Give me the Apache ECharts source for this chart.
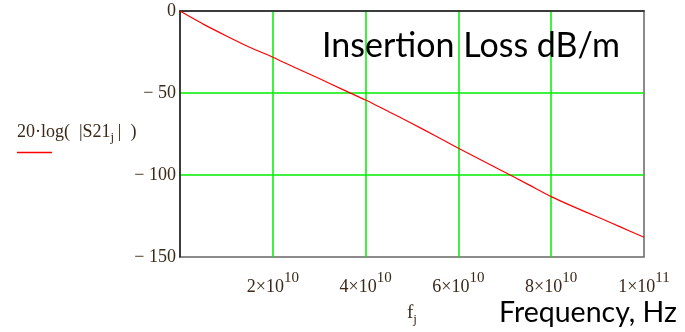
<!DOCTYPE html>
<html>
<head>
<meta charset="utf-8">
<script src="https://cdn.jsdelivr.net/npm/echarts@6/dist/echarts.min.js"></script>
<style>
  html, body { margin: 0; padding: 0; background: #fff; }
  #chart { width: 685px; height: 332px; }
</style>
</head>
<body>
<div id="chart"></div>
<script>
// frequency (Hz) and 20*log(|S21|)
const freqs = [0, 5e9, 10e9, 15e9, 20e9, 25e9, 30e9, 35e9, 40e9, 45e9, 50e9,
  55e9, 60e9, 65e9, 70e9, 75e9, 80e9, 85e9, 90e9, 95e9, 100e9];
const lossDb = [0, -8, -15.2, -22.1, -28.2, -34.8, -41.2, -47.8, -54.3, -61.4, -68.6,
  -76.1, -83.7, -91, -98.3, -105.7, -113.2, -119.6, -125.6, -131.8, -138];

const xTickMant = ["", "2", "4", "6", "8", "1"];
const xTickExp = ["", "10", "10", "10", "10", "11"];
const yTickLabels = { "0": "0", "-50": "\u2212 50", "-100": "\u2212 100", "-150": "\u2212 150" };

const serif = "'Liberation Serif', 'DejaVu Serif', serif";
const sans = "Lato, 'Open Sans', sans-serif";
const labelColor = "#3a2818";

const chart = echarts.init(document.getElementById("chart"), null, { renderer: "canvas" });

const option = {
  animation: false,
  backgroundColor: "#fff",
  grid: {
    left: 180,
    top: 11,
    width: 464,
    height: 246,
    show: true,
    borderColor: "#666",
    borderWidth: 1.5,
    backgroundColor: "transparent",
  },
  xAxis: {
    type: "value",
    min: 0,
    max: 1e11,
    interval: 2e10,
    axisLine: { show: true, lineStyle: { color: "#222", width: 1.5 } },
    axisTick: { show: false },
    splitLine: { show: true, showMinLine: false, showMaxLine: false, lineStyle: { color: "#00ee00", width: 1.5 } },
    axisLabel: {
      margin: 14,
      formatter: (v) => {
        const i = Math.round(v / 2e10);
        if (!xTickMant[i]) return "";
        return "{m|" + xTickMant[i] + "\u00d710}{e|" + xTickExp[i] + "}";
      },
      rich: {
        m: { fontFamily: serif, fontSize: 18, color: labelColor, verticalAlign: "bottom" },
        e: { fontFamily: serif, fontSize: 15, color: labelColor, verticalAlign: "bottom", padding: [0, 0, 10, 0] },
      },
    },
  },
  yAxis: {
    type: "value",
    min: -150,
    max: 0,
    interval: 50,
    axisLine: { show: true, lineStyle: { color: "#222", width: 1.5 } },
    axisTick: { show: false },
    splitLine: { show: true, showMinLine: false, showMaxLine: false, lineStyle: { color: "#00ee00", width: 1.5 } },
    axisLabel: {
      margin: 4,
      fontFamily: serif,
      fontSize: 18,
      color: labelColor,
      formatter: (v) => yTickLabels[String(v)] || "",
    },
  },
  graphic: [
    {
      type: "text",
      left: 322,
      top: 29,
      style: { text: "Insertion Loss dB/m", fontFamily: sans, fontSize: 34, fill: "#000" },
      z: 10,
    },
    {
      type: "text",
      left: 499,
      top: 298,
      style: { text: "Frequency, Hz", fontFamily: sans, fontSize: 28.5, fill: "#000" },
    },
    {
      type: "text",
      left: 17,
      top: 123,
      style: {
        text: "{a|20\u00b7log(  |S21}{s|j}{a|\u2009|  )}",
        rich: {
          a: { fontFamily: serif, fontSize: 18, fill: labelColor, verticalAlign: "top" },
          s: { fontFamily: serif, fontSize: 13, fill: labelColor, verticalAlign: "top", padding: [8, 0, 0, 0] },
        },
      },
    },
    {
      type: "line",
      shape: { x1: 17, y1: 152.5, x2: 52, y2: 152.5 },
      style: { stroke: "#ff0000", lineWidth: 1.5 },
    },
    {
      type: "text",
      left: 407,
      top: 304,
      style: {
        text: "{f|f}{s|j}",
        rich: {
          f: { fontFamily: serif, fontSize: 19, fill: labelColor, verticalAlign: "top" },
          s: { fontFamily: serif, fontSize: 13, fill: labelColor, verticalAlign: "top", padding: [9, 0, 0, 0] },
        },
      },
    },
  ],
  series: [
    {
      type: "line",
      data: freqs.map((f, i) => [f, lossDb[i]]),
      smooth: 0.2,
      showSymbol: false,
      lineStyle: { color: "#ff0000", width: 1.2 },
      z: 5,
    },
  ],
};

chart.setOption(option);
</script>
</body>
</html>
